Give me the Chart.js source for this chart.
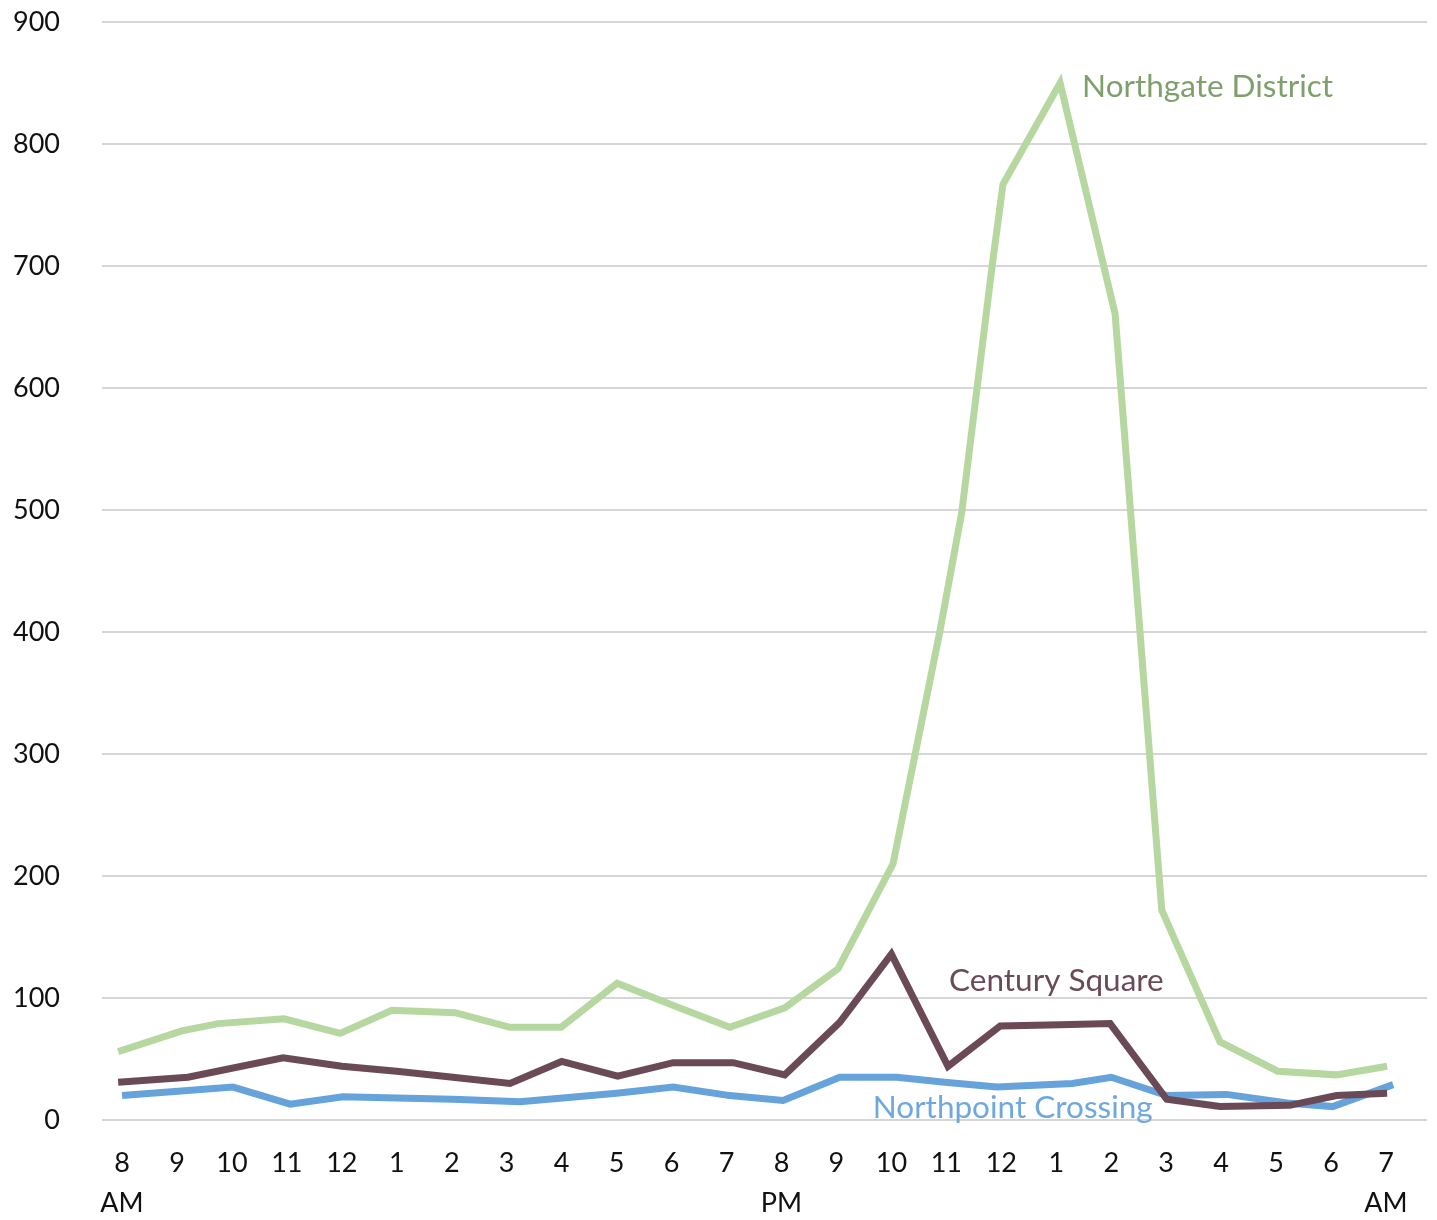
<!DOCTYPE html>
<html>
<head>
<meta charset="utf-8">
<script src="https://cdn.jsdelivr.net/npm/chart.js@4"></script>
<style>
  html, body { margin: 0; padding: 0; background: #ffffff; }
  #wrap { width: 1437px; height: 1220px; }
</style>
</head>
<body>
<div id="wrap"><canvas id="chart" width="1437" height="1220"></canvas></div>
<script>
// hours after 8 AM, one label per hour
const hourLabels = ["8", "9", "10", "11", "12", "1", "2", "3", "4", "5", "6", "7",
                    "8", "9", "10", "11", "12", "1", "2", "3", "4", "5", "6", "7"];
const periodLabels = { 0: "AM", 12: "PM", 23: "AM" };

const yTicks = [0, 100, 200, 300, 400, 500, 600, 700, 800, 900];

// Northgate District
const northgateHours = [-0.07, 1.09, 1.75, 2.95, 3.97, 4.91, 6.06, 7.06, 7.99, 9.01, 10.08, 11.06,
                        12.06, 13.03, 14.03, 14.88, 15.28, 15.83, 16.03, 17.07, 18.07, 18.92,
                        19.98, 21.03, 22.1, 23.02];
const northgateValues = [56, 73, 79, 83, 71, 90, 88, 76, 76, 112, 93, 76,
                         92, 124, 210, 400, 498, 699, 767, 850, 661, 172,
                         64, 40, 37, 44];

// Century Square
const centuryHours = [-0.07, 1.2, 2.93, 4.0, 5.0, 6.02, 7.06, 8.0, 9.02, 10.03, 11.12,
                      12.06, 13.06, 14.0, 15.03, 15.98, 17.07, 17.98, 19.01, 19.98, 21.25,
                      22.1, 23.02];
const centuryValues = [31, 35, 51, 44, 40, 35, 30, 48, 36, 47, 47,
                       37, 80, 136, 44, 77, 78, 79, 17, 11, 12,
                       20, 22];

// Northpoint Crossing
const northpointHours = [0, 2.02, 3.06, 4.02, 5.0, 6.02, 7.24, 8.02, 9.0, 10.03, 11.06,
                         12.03, 13.06, 14.1, 14.97, 15.92, 17.29, 18.0, 19.01, 20.1, 21.2,
                         22.03, 23.13];
const northpointValues = [20, 27, 13, 19, 18, 17, 15, 18, 22, 27, 20,
                          16, 35, 35, 31, 27, 30, 35, 20, 21, 14,
                          11, 29];

// inline series names: [text, hour where the text starts, value at its middle]
const seriesNames = ["Northgate District", "Century Square", "Northpoint Crossing"];
const nameHours = [17.47, 15.05, 13.66];
const nameValues = [847, 114, 10];
const nameColors = ["#7f9f6d", "#6b4a58", "#6fa8dc"];

const FONT = "Lato, 'Noto Sans', sans-serif";

function pairs(xs, ys) {
  return xs.map((x, i) => ({ x: x, y: ys[i] }));
}

// names written next to the lines
const seriesNamePlugin = {
  id: "seriesNames",
  afterDatasetsDraw(chart) {
    const { ctx, scales: { x, y } } = chart;
    ctx.save();
    ctx.font = "31.5px " + FONT;
    ctx.textAlign = "left";
    ctx.textBaseline = "middle";
    seriesNames.forEach((name, i) => {
      ctx.fillStyle = nameColors[i];
      ctx.fillText(name, x.getPixelForValue(nameHours[i]), y.getPixelForValue(nameValues[i]));
    });
    ctx.restore();
  },
};

const lineStyle = {
  borderWidth: 7,
  pointRadius: 0,
  pointHoverRadius: 0,
  tension: 0,
  fill: false,
  borderJoinStyle: "miter",
  borderCapStyle: "butt",
};

new Chart(document.getElementById("chart").getContext("2d"), {
  type: "line",
  data: {
    datasets: [
      Object.assign({ label: seriesNames[0], data: pairs(northgateHours, northgateValues), borderColor: "#b6d7a0", order: 0 }, lineStyle),
      Object.assign({ label: seriesNames[1], data: pairs(centuryHours, centuryValues), borderColor: "#6b4a58", order: 1 }, lineStyle),
      Object.assign({ label: seriesNames[2], data: pairs(northpointHours, northpointValues), borderColor: "#66a3da", order: 2 }, lineStyle),
    ],
  },
  options: {
    responsive: false,
    animation: false,
    layout: { padding: { top: 22, right: 10, left: 0, bottom: 0 } },
    plugins: {
      legend: { display: false },
      tooltip: { enabled: false },
    },
    scales: {
      x: {
        type: "linear",
        min: -0.364,
        max: 23.746,
        afterBuildTicks(scale) {
          scale.ticks = hourLabels.map((_, i) => ({ value: i }));
        },
        afterFit(scale) { scale.height = 100; },
        grid: { display: false, drawTicks: false },
        border: { display: false },
        ticks: {
          autoSkip: false,
          maxRotation: 0,
          padding: 23,
          color: "#111111",
          font: { family: FONT, size: 27, lineHeight: 1.5 },
          callback(value) {
            const i = Math.round(value);
            return periodLabels[i] ? [hourLabels[i], periodLabels[i]] : hourLabels[i];
          },
        },
      },
      y: {
        min: 0,
        max: 900,
        afterBuildTicks(scale) {
          scale.ticks = yTicks.map((v) => ({ value: v }));
        },
        afterFit(scale) { scale.width = 102; },
        // invisible tick marks make the gap between labels and grid
        grid: { color: "#d6d6d6", lineWidth: 2, drawTicks: true, tickLength: 42, tickColor: "rgba(0,0,0,0)" },
        border: { display: false },
        ticks: {
          padding: 0,
          color: "#111111",
          font: { family: FONT, size: 27 },
        },
      },
    },
  },
  plugins: [seriesNamePlugin],
});
</script>
</body>
</html>
